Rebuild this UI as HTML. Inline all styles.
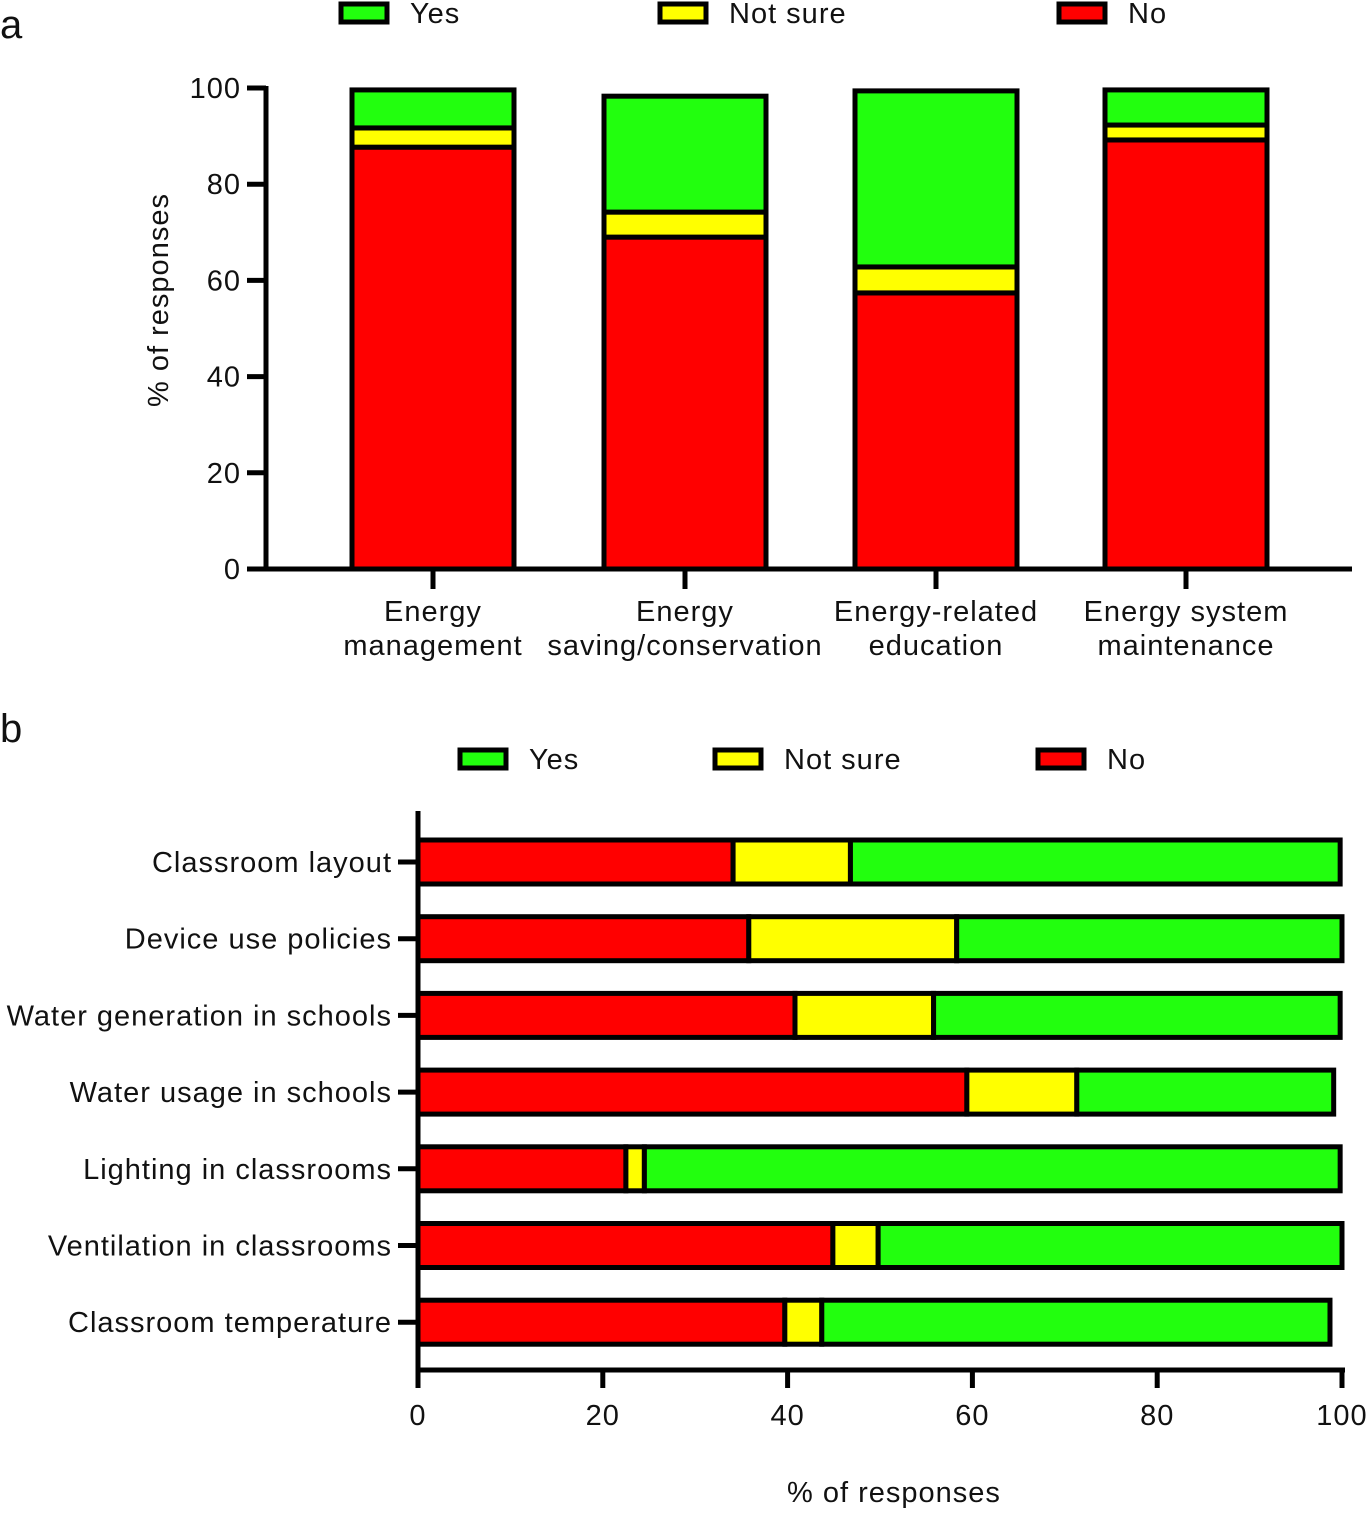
<!DOCTYPE html>
<html><head><meta charset="utf-8"><style>
html,body{margin:0;padding:0;background:#fff}
svg text{font-family:"Liberation Sans",Arial,sans-serif;fill:#111;letter-spacing:1px}
</style></head><body>
<svg id="s" width="1369" height="1510" viewBox="0 0 1369 1510" xmlns="http://www.w3.org/2000/svg"></svg>
<script>
const aCats=[["Energy","management"],["Energy","saving/conservation"],["Energy-related","education"],["Energy system","maintenance"]];
const aNo=[87.7,69,57.4,89.2];
const aNotSure=[4,5.2,5.4,3.1];
const aYes=[7.9,24.1,36.6,7.3];
const aTicks=[0,20,40,60,80,100];
const bCats=["Classroom layout","Device use policies","Water generation in schools","Water usage in schools","Lighting in classrooms","Ventilation in classrooms","Classroom temperature"];
const bNo=[34.1,35.8,40.8,59.4,22.5,44.9,39.7];
const bNotSure=[12.7,22.5,15,11.9,2,4.9,4];
const bYes=[53,41.7,44,27.8,75.3,50.2,55];
const bTicks=[0,20,40,60,80,100];
const C={yes:"#22ff0e",ns:"#ffff00",no:"#ff0000"};
const FS=29;
const S=document.getElementById('s');const NS="http://www.w3.org/2000/svg";
function el(t,a,txt){const e=document.createElementNS(NS,t);for(const k in a)e.setAttribute(k,a[k]);if(txt!==undefined)e.textContent=txt;S.appendChild(e);return e;}
// panel a
const ay=v=>569-v*4.81;
const aBarX=[352,604,855,1105],aW=162;
let e=el('text',{x:0,y:38,'font-size':40,style:'letter-spacing:0'},'a');


aCats.forEach((c,i)=>{
  const segs=[[aNo[i],C.no,'no'],[aNotSure[i],C.ns,'not-sure'],[aYes[i],C.yes,'yes']];let cum=0;
  segs.forEach(s=>{const r=el('rect',{x:aBarX[i],y:ay(cum+s[0]),width:aW,height:s[0]*4.81,fill:s[1],stroke:'#000','stroke-width':5});
    
    cum+=s[0];});
  const cx=aBarX[i]+aW/2;
  el('line',{x1:cx,y1:569,x2:cx,y2:589,stroke:'#000','stroke-width':5});
  c.forEach((l,j)=>{const t=el('text',{x:cx,y:621+j*34,'font-size':FS,'text-anchor':'middle'},l);
    
    });
});
aTicks.forEach(v=>{el('line',{x1:247,y1:ay(v),x2:266,y2:ay(v),stroke:'#000','stroke-width':5});
  const t=el('text',{x:241,y:ay(v)+10,'font-size':FS,'text-anchor':'end'},v);
  
  });
el('line',{x1:266,y1:86,x2:266,y2:571,stroke:'#000','stroke-width':5});
el('line',{x1:264,y1:569,x2:1352,y2:569,stroke:'#000','stroke-width':5});
e=el('text',{x:0,y:0,'font-size':FS,'text-anchor':'middle',transform:'translate(168,300) rotate(-90)'},'% of responses');


function legend(y,xs,tag){[['Yes',C.yes],['Not sure',C.ns],['No',C.no]].forEach((l,i)=>{
  const r=el('rect',{x:xs[i],y:y,width:46,height:18,fill:l[1],stroke:'#000','stroke-width':5});
  
  
  const t=el('text',{x:xs[i]+69,y:y+19,'font-size':FS},l[0]);
  
  });}
legend(4,[341,660,1059],'a');
// panel b
e=el('text',{x:0,y:742,'font-size':40,style:'letter-spacing:0'},'b');


legend(750,[460,715,1038],'b');
const bx=v=>418+v*9.24;
bCats.forEach((c,i)=>{
  const cy=862+i*76.7;let cum=0;
  [[bNo[i],C.no,'no'],[bNotSure[i],C.ns,'not-sure'],[bYes[i],C.yes,'yes']].forEach(s=>{
    const r=el('rect',{x:bx(cum),y:cy-22,width:s[0]*9.24,height:44,fill:s[1],stroke:'#000','stroke-width':5});
    
    cum+=s[0];});
  el('line',{x1:398,y1:cy,x2:418,y2:cy,stroke:'#000','stroke-width':5});
  const t=el('text',{x:392,y:cy+10,'font-size':FS,'text-anchor':'end'},c);
  
  
});
bTicks.forEach(v=>{el('line',{x1:bx(v),y1:1370,x2:bx(v),y2:1388,stroke:'#000','stroke-width':5});
  const t=el('text',{x:bx(v),y:1425,'font-size':FS,'text-anchor':'middle'},v);
  
  });
el('line',{x1:418,y1:811,x2:418,y2:1372,stroke:'#000','stroke-width':5});
el('line',{x1:416,y1:1370,x2:1345,y2:1370,stroke:'#000','stroke-width':5});
e=el('text',{x:894,y:1502,'font-size':FS,'text-anchor':'middle'},'% of responses');


</script>
</body></html>
